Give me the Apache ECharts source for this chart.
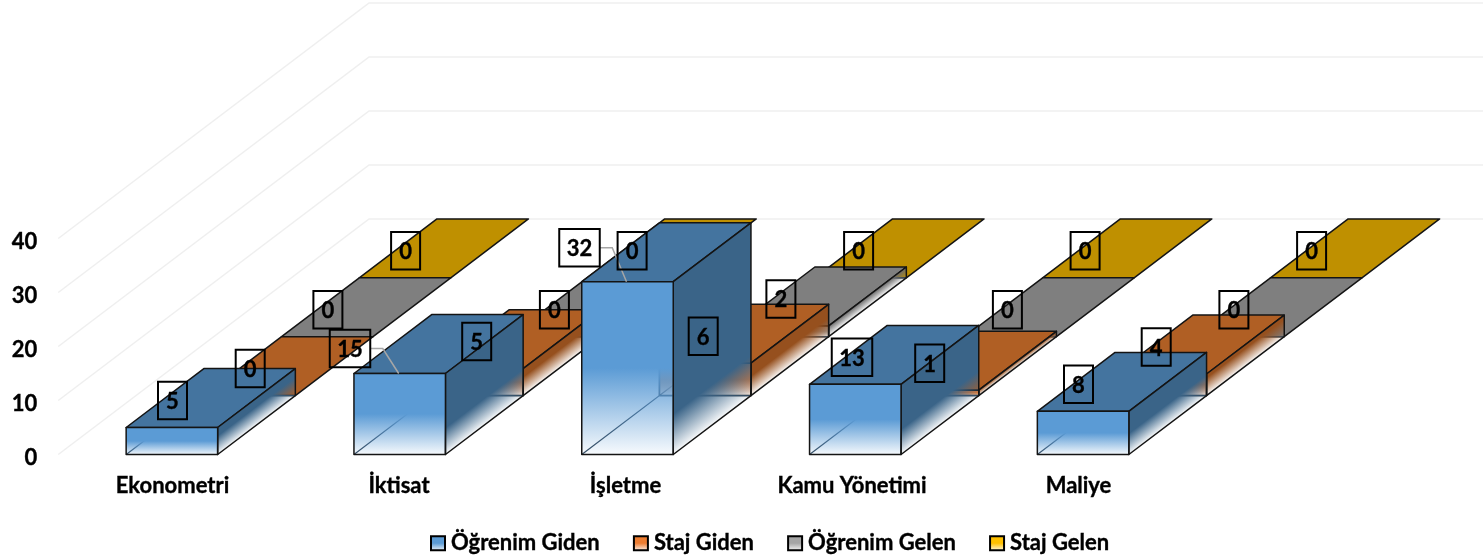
<!DOCTYPE html>
<html>
<head>
<meta charset="utf-8">
<style>
  html, body { margin: 0; padding: 0; background: #fff; }
  #chart { width: 1483px; height: 560px; }
</style>
<script src="https://cdn.jsdelivr.net/npm/echarts@6/dist/echarts.min.js"></script>
</head>
<body>
<div id="chart"></div>
<script>
const CATEGORIES = ["Ekonometri", "İktisat", "İşletme", "Kamu Yönetimi", "Maliye"];
const OGRENIM_GIDEN = [5, 15, 32, 13, 8];
const STAJ_GIDEN = [0, 5, 6, 1, 4];
const OGRENIM_GELEN = [0, 0, 2, 0, 0];
const STAJ_GELEN = [0, 0, 0, 0, 0];
const Y_TICKS = [0, 10, 20, 30, 40];

const LEGEND_ORDER = ["Öğrenim Giden", "Staj Giden", "Öğrenim Gelen", "Staj Gelen"];
const FONT = "Lato";
// the original text is a little heavier than Lato Bold
const HEAVY = { textBorderColor: "#000", textBorderWidth: 0.35 };

// one step of depth in the fake 3d view
const DEPTH_X = 77.7;
const DEPTH_Y = 58.9;
const BAR_WIDTH = 91.5;
// bars sit slightly wider apart than the category labels
const BAR_DRIFT = 1.3;
const EDGE = "#141414";

const FACES = [
  { front: "91,155,213", top: "#44749F", side: "#3A6488" },
  { front: "237,125,49", top: "#B05F24", side: "#96501E" },
  { front: "165,165,165", top: "#7F7F7F", side: "#6B6B6B" },
  { front: "255,192,0", top: "#BF9000", side: "#A27B00" },
];

// the two labels that were dragged off their bar, with a leader line
const MOVED_LABELS = { "0-1": [-49, 2], "0-2": [-46, -7] };

const chart = echarts.init(document.getElementById("chart"));

function fadeStops(rgb, solidUntil) {
  return [
    { offset: 0, color: "rgb(" + rgb + ")" },
    { offset: solidUntil, color: "rgb(" + rgb + ")" },
    { offset: 1, color: "rgba(" + rgb + ",0.04)" },
  ];
}

function poly(points, fill) {
  return {
    type: "polygon",
    shape: { points: points },
    style: { fill: fill, stroke: EDGE, lineWidth: 1.5, lineJoin: "round" },
  };
}

function barItem(depthIndex) {
  return function (params, api) {
    const i = api.value(0);
    const value = api.value(1);
    const topPt = api.coord([i, value]);
    const basePt = api.coord([i, 0]);
    const face = FACES[depthIndex];

    const xl = topPt[0] + i * BAR_DRIFT - 0.6 - BAR_WIDTH / 2 + depthIndex * DEPTH_X;
    const xr = xl + BAR_WIDTH;
    const yb = basePt[1] - depthIndex * DEPTH_Y;
    const yt = topPt[1] - depthIndex * DEPTH_Y;
    const h = yb - yt;
    const children = [];

    if (h > 0.5) {
      // hidden edges show through the faded part of the faces
      children.push({
        type: "polyline",
        shape: { points: [[xl, yb], [xl + DEPTH_X, yb - DEPTH_Y], [xr + DEPTH_X, yb - DEPTH_Y]] },
        style: { fill: null, stroke: "#33485c", lineWidth: 1.2 },
      });
      children.push({
        type: "line",
        shape: { x1: xl + DEPTH_X, y1: yb - DEPTH_Y, x2: xl + DEPTH_X, y2: yt - DEPTH_Y },
        style: { stroke: "#33485c", lineWidth: 1.2 },
      });
    }

    children.push(poly([
      [xl, yt], [xr, yt], [xr + DEPTH_X, yt - DEPTH_Y], [xl + DEPTH_X, yt - DEPTH_Y],
    ], face.top));

    if (h > 0.5) {
      const fadeLen = 14.5 + 0.15 * h;
      const sideRgb = echarts.color.parse(face.side).slice(0, 3).join(",");
      const normalLen = h * 0.798;
      children.push(poly([
        [xr, yt], [xr + DEPTH_X, yt - DEPTH_Y], [xr + DEPTH_X, yb - DEPTH_Y], [xr, yb],
      ], new echarts.graphic.LinearGradient(
        xr, yt, xr + normalLen * 0.603, yt + normalLen * 0.798,
        fadeStops(sideRgb, Math.max(0, 1 - fadeLen / h)), true
      )));
      children.push(poly([
        [xl, yt], [xr, yt], [xr, yb], [xl, yb],
      ], new echarts.graphic.LinearGradient(0, 0, 0, 1, fadeStops(face.front, 0.5))));
    }

    // value label box
    const text = String(value);
    const moved = MOVED_LABELS[depthIndex + "-" + i];
    const boxW = text.length > 1 ? 40.5 : 29;
    const boxH = 37.5;
    let cx = topPt[0] + depthIndex * 77.7;
    let cy = yt - 27;
    if (moved) {
      const anchorX = xl + BAR_WIDTH / 2 - 1;
      cx += moved[0];
      cy += moved[1];
      children.push({
        type: "polyline",
        z2: 90,
        shape: { points: [[cx + boxW / 2, cy], [cx + boxW / 2 + 12.5, cy], [anchorX, yt]] },
        style: { fill: null, stroke: "#A6A6A6", lineWidth: 1.5 },
      });
    }
    children.push({
      type: "rect",
      z2: 100,
      shape: { x: cx - boxW / 2, y: cy - boxH / 2, width: boxW, height: boxH },
      style: { fill: null, stroke: "#000", lineWidth: 2 },
    });
    children.push({
      type: "text",
      z2: 101,
      style: {
        x: cx, y: cy + 1.5, text: text, align: "center", verticalAlign: "middle",
        fontFamily: FONT, fontWeight: "bold", fontSize: 22, fill: "#000",
        stroke: "#000", lineWidth: 0.35,
      },
    });
    return { type: "group", children: children };
  };
}

function barSeries(name, values, depthIndex) {
  return {
    name: name,
    type: "custom",
    coordinateSystem: "cartesian2d",
    clip: false,
    silent: true,
    encode: { x: 0, y: 1 },
    data: values.map((v, i) => [i, v]),
    itemStyle: {
      color: new echarts.graphic.LinearGradient(0, 0, 0, 1, fadeStops(FACES[depthIndex].front, 0.5)),
      borderColor: "#000",
      borderWidth: 1.5,
    },
    renderItem: barItem(depthIndex),
  };
}

chart.setOption({
  animation: false,
  backgroundColor: "#fff",
  grid: { left: 59.25, top: 238.5, width: 1132.5, height: 216 },
  legend: {
    data: LEGEND_ORDER,
    left: 425,
    top: 527,
    icon: "rect",
    itemWidth: 14,
    itemHeight: 14,
    itemGap: 33,
    selectedMode: false,
    textStyle: { fontFamily: FONT, fontWeight: "bold", fontSize: 22, color: "#000", padding: [0, 0, 0, 1], ...HEAVY },
  },
  xAxis: {
    type: "category",
    data: CATEGORIES,
    axisLine: { show: false },
    axisTick: { show: false },
    axisLabel: { color: "#000", fontFamily: FONT, fontWeight: "bold", fontSize: 22, margin: 20, ...HEAVY },
  },
  yAxis: {
    type: "value",
    min: 0,
    max: 40,
    interval: 10,
    splitLine: { show: false },
    axisLine: { show: false },
    axisTick: { show: false },
    axisLabel: {
      margin: 22,
      formatter: "{v|{value}}",
      rich: {
        // nudged down a few px, the 3d wall pushes the ticks off the grid line
        v: { color: "#000", fontFamily: FONT, fontWeight: "bold", fontSize: 22, padding: [6, 0, 0, 0], ...HEAVY },
      },
    },
  },
  series: [
    {
      name: "walls",
      type: "custom",
      clip: false,
      silent: true,
      encode: { y: 0 },
      data: Y_TICKS.map((t) => [t]),
      renderItem: function (params, api) {
        const y = api.coord([0, api.value(0)])[1];
        const x0 = params.coordSys.x - 1;
        return {
          type: "polyline",
          shape: { points: [[x0, y], [x0 + 4 * DEPTH_X, y - 4 * DEPTH_Y], [1483, y - 4 * DEPTH_Y]] },
          style: { fill: null, stroke: "#EFEFEF", lineWidth: 1.5 },
        };
      },
    },
    barSeries("Staj Gelen", STAJ_GELEN, 3),
    barSeries("Öğrenim Gelen", OGRENIM_GELEN, 2),
    barSeries("Staj Giden", STAJ_GIDEN, 1),
    barSeries("Öğrenim Giden", OGRENIM_GIDEN, 0),
  ],
});
</script>
</body>
</html>
